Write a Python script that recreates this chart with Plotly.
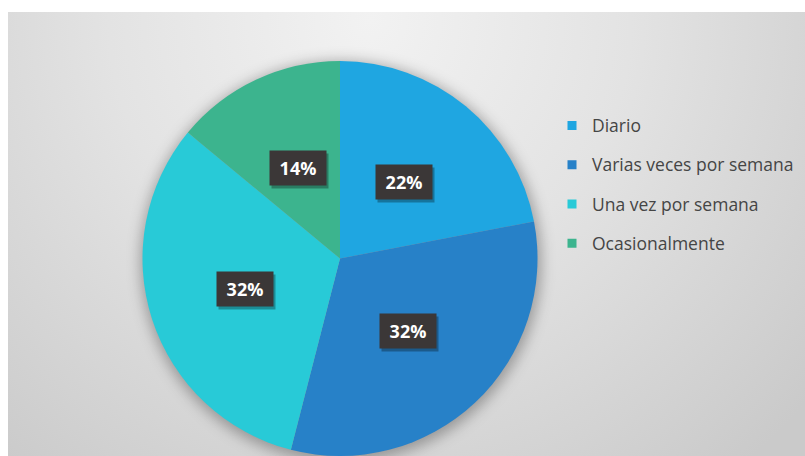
import base64
import math
import plotly.graph_objects as go

# Frequency shares shown in the pie
categories = ["Diario", "Varias veces por semana", "Una vez por semana", "Ocasionalmente"]
shares = [22, 32, 32, 14]
slice_colors = ["#1fa6e1", "#2781c8", "#28cad7", "#3cb48e"]

W, H = 805, 456
# pie centre and radius in pixels
CX, CY, R = 340.0, 258.5, 197.5
# gradient panel (white strip left and top)
PX0, PY0 = 8, 12
BW, BH = W - PX0, H - PY0

# background panel: radial gray gradient plus a soft shadow under the pie
svg = f'''<svg xmlns="http://www.w3.org/2000/svg" width="{BW}" height="{BH}" viewBox="0 0 {BW} {BH}">
<defs>
<radialGradient id="g" cx="{370 - PX0}" cy="{20 - PY0}" r="580" gradientUnits="userSpaceOnUse">
<stop offset="0" stop-color="#f2f2f2"/>
<stop offset="0.45" stop-color="#e3e3e3"/>
<stop offset="1" stop-color="#cacaca"/>
</radialGradient>
<filter id="b" x="-30%" y="-30%" width="160%" height="160%"><feGaussianBlur stdDeviation="7"/></filter>
</defs>
<rect width="{BW}" height="{BH}" fill="url(#g)"/>
<circle cx="{CX - PX0 + 1}" cy="{CY - PY0 + 3}" r="{R + 3}" fill="#000" fill-opacity="0.30" filter="url(#b)"/>
</svg>'''
bg_uri = "data:image/svg+xml;base64," + base64.b64encode(svg.encode()).decode()

fig = go.Figure()

fig.add_trace(go.Pie(
    labels=categories,
    values=shares,
    sort=False,
    direction="clockwise",
    rotation=0,
    marker=dict(colors=slice_colors, line=dict(width=0)),
    textinfo="none",
    hoverinfo="label+percent",
    showlegend=False,
    domain=dict(x=[(CX - R) / W, (CX + R) / W],
                y=[max(0.0, (H - (CY + R)) / H), (H - (CY - R)) / H]),
))

# legend entries (one group each so they can be spaced apart)
for name, color in zip(categories, slice_colors):
    fig.add_trace(go.Scatter(
        x=[None], y=[None], mode="markers", name=name, legendgroup=name,
        marker=dict(symbol="square", size=9, color=color),
    ))

# percentage labels in dark boxes at the middle of each slice
total = sum(shares)
annotations = []
cum = 0.0
for v in shares:
    mid = (cum + v / 2) / total * 2 * math.pi
    cum += v
    px = CX + 0.505 * R * math.sin(mid)
    py = CY - 0.505 * R * math.cos(mid)
    txt = f"{round(v / total * 100)}%"
    common = dict(xref="paper", yref="paper", x=px / W, y=1 - py / H,
                  showarrow=False, width=42, height=20, borderpad=7,
                  xanchor="center", yanchor="middle")
    annotations.append(dict(common, text="", bgcolor="rgba(0,0,0,0.30)",
                            xshift=2, yshift=-3))
    annotations.append(dict(common, text=f"<b>{txt}</b>", bgcolor="#3b3737",
                            font=dict(family="Open Sans", size=18, color="#ffffff")))

fig.update_layout(
    width=W, height=H,
    margin=dict(l=0, r=0, t=0, b=0),
    paper_bgcolor="#ffffff",
    plot_bgcolor="rgba(0,0,0,0)",
    xaxis=dict(visible=False), yaxis=dict(visible=False),
    images=[dict(source=bg_uri, xref="paper", yref="paper",
                 x=PX0 / W, y=1 - PY0 / H, sizex=BW / W, sizey=BH / H,
                 xanchor="left", yanchor="top", sizing="stretch", layer="below")],
    legend=dict(x=552 / W, xanchor="left", y=1 - 107.5 / H, yanchor="top",
                tracegroupgap=13.5, bgcolor="rgba(0,0,0,0)",
                font=dict(family="Open Sans", size=17.5, color="#454545")),
    annotations=annotations,
)

fig.write_html("out.html")
